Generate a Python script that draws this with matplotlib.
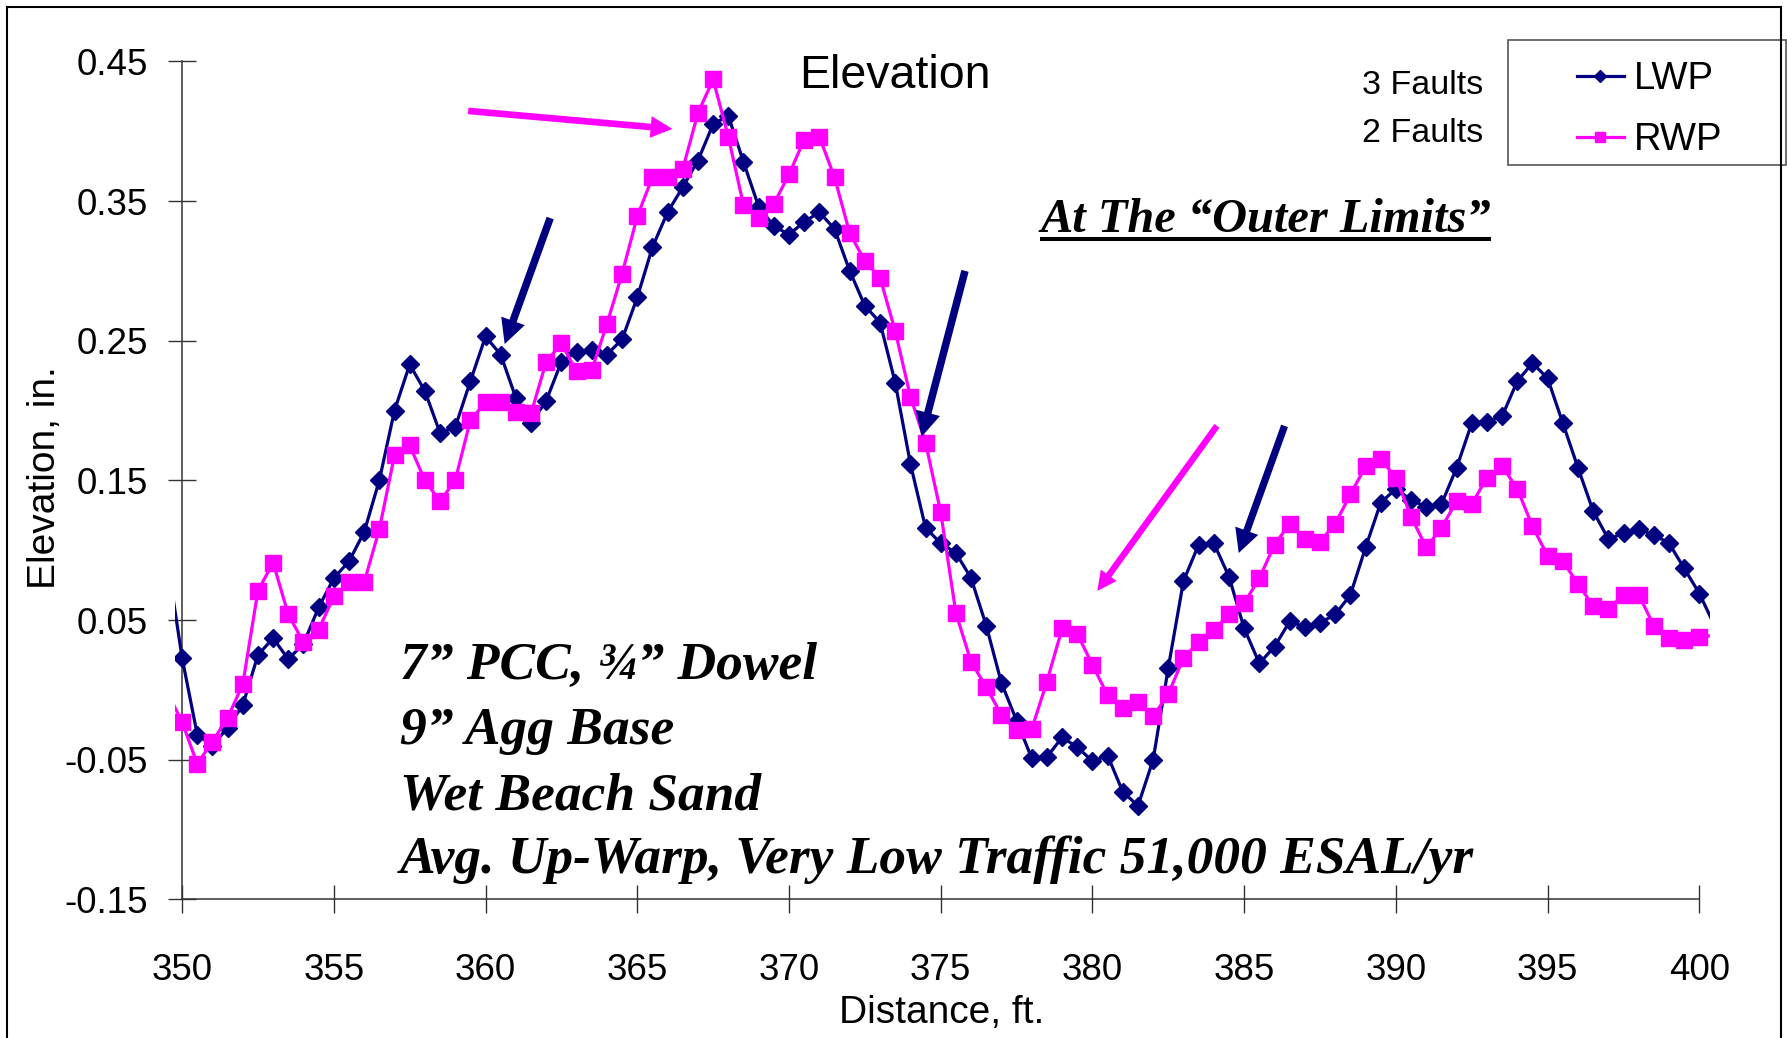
import numpy as np
import matplotlib
matplotlib.use("Agg")
import matplotlib.pyplot as plt
from matplotlib.patches import Rectangle
from matplotlib.lines import Line2D

# ---------------- data ----------------
distance = np.arange(349.5, 400.51, 0.5)   # stations every 0.5 ft

lwp = [0.095, 0.023, -0.032, -0.040, -0.027, -0.011, 0.025, 0.037, 0.022, 0.033,
       0.059, 0.080, 0.092, 0.113, 0.150, 0.200, 0.233, 0.214, 0.184, 0.188,
       0.221, 0.253, 0.240, 0.209, 0.191, 0.207, 0.235, 0.242, 0.243, 0.240,
       0.251, 0.281, 0.317, 0.342, 0.360, 0.379, 0.405, 0.411, 0.378, 0.346,
       0.332, 0.326, 0.335, 0.342, 0.330, 0.300, 0.275, 0.263, 0.220, 0.162,
       0.116, 0.105, 0.098, 0.080, 0.046, 0.005, -0.022, -0.049, -0.048, -0.034,
       -0.041, -0.051, -0.047, -0.073, -0.083, -0.050, 0.016, 0.078, 0.104, 0.105,
       0.081, 0.044, 0.019, 0.031, 0.049, 0.045, 0.048, 0.054, 0.068, 0.102,
       0.134, 0.144, 0.136, 0.131, 0.133, 0.159, 0.191, 0.192, 0.196, 0.221,
       0.234, 0.223, 0.191, 0.159, 0.128, 0.108, 0.112, 0.115, 0.111, 0.105,
       0.087, 0.069, 0.046]

rwp = [-0.001, -0.023, -0.053, -0.037, -0.020, 0.004, 0.071, 0.091, 0.054, 0.034,
       0.043, 0.067, 0.077, 0.077, 0.115, 0.168, 0.175, 0.150, 0.135, 0.150,
       0.193, 0.206, 0.206, 0.199, 0.198, 0.235, 0.248, 0.228, 0.229, 0.262,
       0.298, 0.339, 0.367, 0.367, 0.373, 0.413, 0.437, 0.396, 0.347, 0.338,
       0.348, 0.369, 0.394, 0.396, 0.367, 0.327, 0.307, 0.295, 0.257, 0.210,
       0.177, 0.127, 0.055, 0.020, 0.002, -0.018, -0.029, -0.028, 0.006, 0.044,
       0.040, 0.018, -0.004, -0.013, -0.009, -0.019, -0.003, 0.023, 0.034, 0.043,
       0.054, 0.062, 0.080, 0.104, 0.119, 0.108, 0.106, 0.119, 0.140, 0.160,
       0.165, 0.152, 0.124, 0.102, 0.116, 0.135, 0.133, 0.152, 0.160, 0.144,
       0.117, 0.096, 0.092, 0.076, 0.060, 0.058, 0.068, 0.068, 0.046, 0.037,
       0.036, 0.038, 0.039]

series_labels = ["LWP", "RWP"]
x_ticks = [350, 355, 360, 365, 370, 375, 380, 385, 390, 395, 400]
y_ticks = [-0.15, -0.05, 0.05, 0.15, 0.25, 0.35, 0.45]
fault_notes = ["3 Faults", "2 Faults"]
note_lines = ["7\u201d PCC, \u00be\u201d Dowel", "9\u201d Agg Base", "Wet Beach Sand",
              "Avg. Up-Warp, Very Low Traffic 51,000 ESAL/yr"]
callout = "At The \u201cOuter Limits\u201d"

# arrows (tail -> tip) in data coordinates, colour, tail width, head width, head length (pt)
arrows = [((359.43, 0.4145), (366.16, 0.4016), "#FF00FF", 4.8, 15.6, 15.7),
          ((362.13, 0.3378), (360.63, 0.2476), "#000080", 5.4, 18.0, 17.7),
          ((375.80, 0.3000), (374.37, 0.1813), "#000080", 5.4, 18.0, 17.7),
          ((384.10, 0.1890), (380.16, 0.0708), "#FF00FF", 4.6, 14.0, 14.0),
          ((386.33, 0.1890), (384.82, 0.0980), "#000080", 5.2, 17.5, 17.0)]

assert len(lwp) == len(distance) == len(rwp)

# ---------------- figure ----------------
W, H = 1787, 1038
DPI = 100
plt.rcParams["font.family"] = ["Liberation Sans", "DejaVu Sans"]
fig = plt.figure(figsize=(W / DPI, H / DPI), dpi=DPI, facecolor="white")


def fx(px):
    return px / W


def fy(py):
    return 1 - py / H


ax_left, ax_right, ax_top, ax_bottom = 174.5, 1710.0, 61.33, 899.4
ax = fig.add_axes([fx(ax_left), fy(ax_bottom), (ax_right - ax_left) / W, (ax_bottom - ax_top) / H])
ax.set_facecolor("white")

navy = "#000080"
magenta = "#FF00FF"
visible_markers = slice(1, -1)   # end stations lie outside the plotted range
l1, = ax.plot(distance, lwp, color=navy, lw=2.3, marker="D", ms=9.0, markevery=visible_markers,
              mfc=navy, mec=navy, mew=1, label=series_labels[0], zorder=3)
l2, = ax.plot(distance, rwp, color=magenta, lw=2.3, marker="s", ms=11.0, markevery=visible_markers,
              mfc=magenta, mec=magenta, mew=1, label=series_labels[1], zorder=4)

ax.set_xlim(349.75, 400.35)
ax.set_ylim(-0.15, 0.45)
ax.set_xticks(x_ticks)
ax.set_xticklabels([str(v) for v in x_ticks])
ax.set_yticks(y_ticks)
ax.set_yticklabels([f"{v:.2f}" for v in y_ticks])

axis_col = "#333333"
for s in ["top", "right"]:
    ax.spines[s].set_visible(False)
ax.spines["left"].set_position(("data", 350))
ax.spines["bottom"].set_bounds(350, 400)
for s in ["left", "bottom"]:
    ax.spines[s].set_color(axis_col)
    ax.spines[s].set_linewidth(1.1)

ax.tick_params(axis="both", direction="inout", length=19.8, width=1.0, color=axis_col,
               labelsize=26.5, labelcolor="black")
ax.tick_params(axis="y", pad=15)
ax.tick_params(axis="x", pad=28.5)

ax.set_xlabel("Distance, ft.", fontsize=28)
ax.xaxis.set_label_coords((941.5 - ax_left) / (ax_right - ax_left),
                          -(994.5 - ax_bottom) / (ax_bottom - ax_top))
ax.set_ylabel("Elevation, in.", fontsize=28)
ax.yaxis.set_label_coords((63 - ax_left) / (ax_right - ax_left),
                          (ax_bottom - 477.5) / (ax_bottom - ax_top))

ax.set_title("Elevation", fontsize=33.5, x=(895.3 - ax_left) / (ax_right - ax_left),
             y=(ax_bottom - 88.3) / (ax_bottom - ax_top), pad=0, va="baseline")

# arrows
for (tail, tip, col, tw, hw, hl) in arrows:
    ax.annotate("", xy=tip, xytext=tail, xycoords="data", textcoords="data",
                arrowprops=dict(arrowstyle=f"simple,head_length={hl},head_width={hw},tail_width={tw}",
                                mutation_scale=1, color=col, lw=0, shrinkA=0, shrinkB=0),
                zorder=5)

# fault notes
fig.text(fx(1483), fy(94), fault_notes[0], ha="right", va="baseline", fontsize=24.5)
fig.text(fx(1483), fy(142), fault_notes[1], ha="right", va="baseline", fontsize=24.5)

# legend box + legend
fig.add_artist(Rectangle((fx(1508), fy(165)), (1786 - 1508) / W, (165 - 40) / H,
                         transform=fig.transFigure, fill=True, facecolor="white",
                         edgecolor="#555555", lw=1.2, zorder=2))
leg = fig.legend(handles=[l1, l2], labels=series_labels, loc="center left",
                 bbox_to_anchor=(fx(1577), fy(109.5)), frameon=False, fontsize=27.5,
                 handlelength=1.23, handletextpad=0.27, labelspacing=0.66,
                 borderpad=0, borderaxespad=0, markerscale=0.7)
leg.set_zorder(3)

serif = dict(family=["Liberation Serif", "DejaVu Serif"], weight="bold", style="italic")

# callout (fit width)
co = fig.text(fx(1040), fy(231.7), callout, ha="left", va="baseline", fontsize=36, **serif)
# note lines
baselines = [679, 744, 809, 873]
notes = [fig.text(fx(400), fy(b), t, ha="left", va="baseline", fontsize=40, **serif)
         for b, t in zip(baselines, note_lines)]

fig.canvas.draw()
r = fig.canvas.get_renderer()
bb = notes[3].get_window_extent(renderer=r)
sc = 1073.0 / bb.width
for t in notes:
    t.set_fontsize(40 * sc)
bb = co.get_window_extent(renderer=r)
co.set_fontsize(36 * 450.0 / bb.width)
fig.canvas.draw()
bb = co.get_window_extent(renderer=r)
fig.add_artist(Line2D([bb.x0 / W, bb.x1 / W], [fy(239), fy(239)], transform=fig.transFigure,
                      color="black", lw=2.9, solid_capstyle="butt"))

# outer chart frame
fig.add_artist(Rectangle((fx(7.5), fy(1050)), (1781 - 7.5) / W, (1050 - 7.3) / H,
                         transform=fig.transFigure, fill=False, edgecolor="black", lw=1.5,
                         clip_on=False, zorder=10))

fig.savefig("out.png", dpi=DPI, facecolor="white")
